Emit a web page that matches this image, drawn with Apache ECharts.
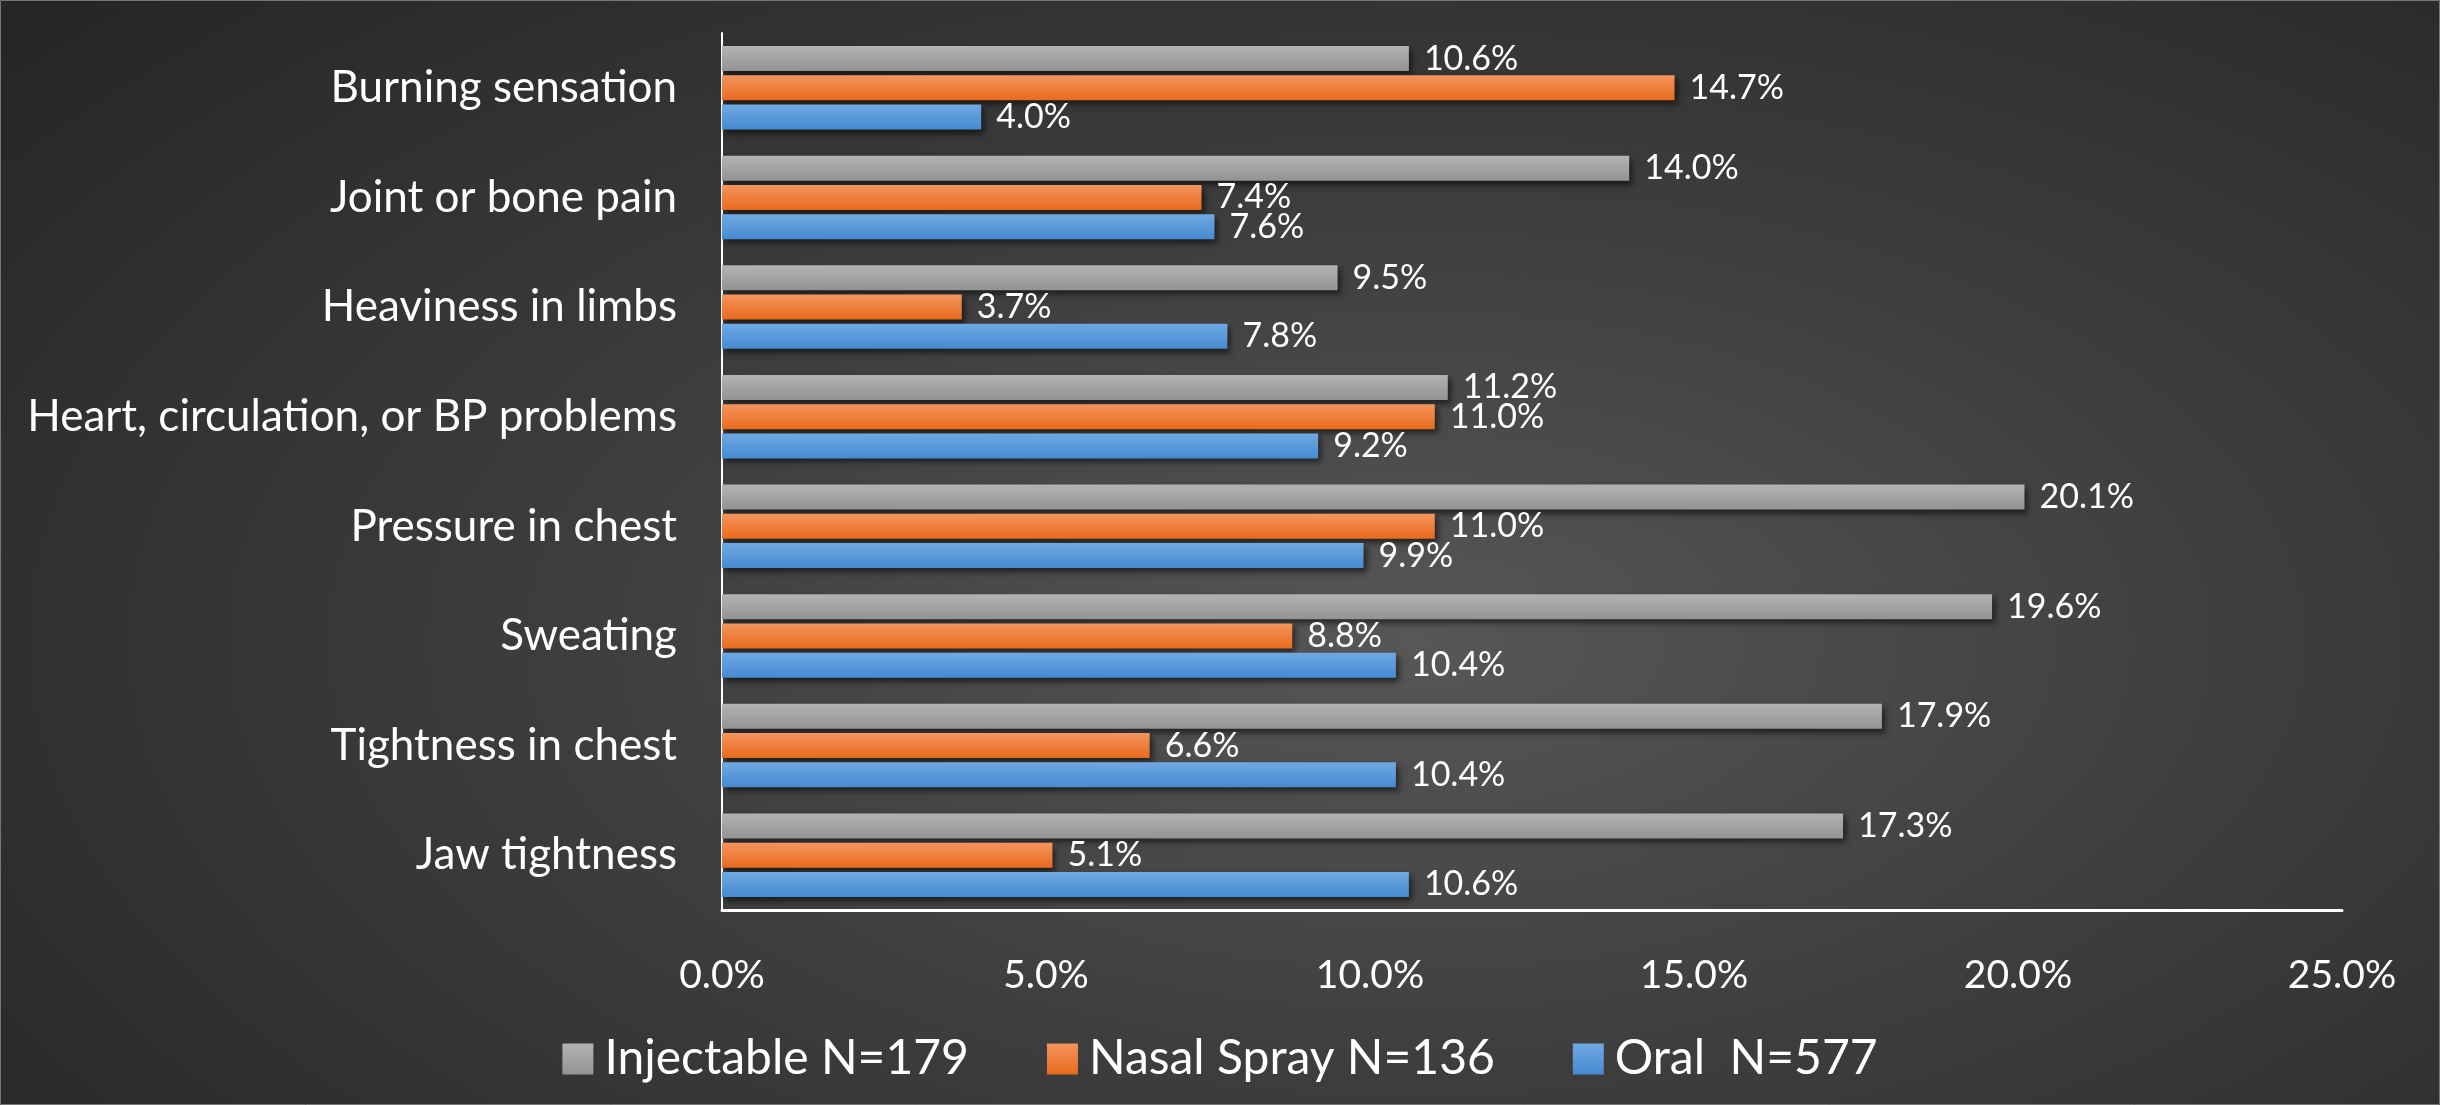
<!DOCTYPE html>
<html>
<head>
<meta charset="utf-8">
<script src="https://cdn.jsdelivr.net/npm/echarts@6/dist/echarts.min.js"></script>
<style>
  html, body { margin: 0; padding: 0; background: #262626; }
  #main {
    width: 2440px; height: 1105px;
    background: radial-gradient(ellipse 75% 85% at 58% 58%, #575757 0%, #3e3e3e 45%, #262626 100%);
  }
</style>
</head>
<body>
<div id="main"></div>
<script>
// categories, bottom to top as on the axis
var symptoms = ['Jaw tightness', 'Tightness in chest', 'Sweating', 'Pressure in chest',
  'Heart, circulation, or BP problems', 'Heaviness in limbs', 'Joint or bone pain', 'Burning sensation'];

var injectable = [17.3, 17.9, 19.6, 20.1, 11.2, 9.5, 14.0, 10.6];
var nasalSpray = [5.1, 6.6, 8.8, 11.0, 11.0, 3.7, 7.4, 14.7];
var oral = [10.6, 10.4, 10.4, 9.9, 9.2, 7.8, 7.6, 4.0];

var seriesNames = ['Injectable N=179', 'Nasal Spray N=136', 'Oral  N=577'];

var FONT = 'Lato, "Open Sans", sans-serif';

function grad(top, bottom) {
  return new echarts.graphic.LinearGradient(0, 0, 0, 1, [
    { offset: 0, color: top },
    { offset: 1, color: bottom }
  ]);
}

function makeSeries(name, data, c1, c2) {
  return {
    name: name,
    type: 'bar',
    data: data,
    barWidth: 25,
    barGap: '17%',
    itemStyle: {
      color: grad(c1, c2),
      shadowColor: 'rgba(0,0,0,0.55)',
      shadowBlur: 6,
      shadowOffsetX: 3,
      shadowOffsetY: 4
    },
    label: {
      show: true,
      position: 'right',
      distance: 15,
      color: '#ffffff',
      fontFamily: FONT,
      fontSize: 34,
      formatter: function (p) { return p.value.toFixed(1) + '%'; }
    }
  };
}

var chart = echarts.init(document.getElementById('main'), null, { renderer: 'canvas' });

var option = {
  animation: false,
  backgroundColor: 'transparent',
  textStyle: { fontFamily: FONT },
  graphic: [{
    type: 'rect',
    shape: { x: 0.5, y: 0.5, width: 2439, height: 1104 },
    style: { fill: 'none', stroke: '#777777', lineWidth: 1 },
    silent: true
  }],
  grid: { left: 722, right: 98, top: 33, bottom: 195, containLabel: false },
  legend: {
    data: seriesNames,
    left: 'center',
    top: 1030,
    itemWidth: 31,
    itemHeight: 31,
    itemGap: 78,
    icon: 'rect',
    textStyle: {
      color: '#ffffff',
      fontFamily: FONT,
      fontSize: 48,
      padding: [0, 0, 0, 6]
    }
  },
  xAxis: {
    type: 'value',
    min: 0,
    max: 25,
    interval: 5,
    splitLine: { show: false },
    axisLine: { show: true, lineStyle: { color: '#ffffff', width: 3 } },
    axisTick: { show: false },
    axisLabel: {
      color: '#ffffff',
      fontFamily: FONT,
      fontSize: 39,
      margin: 46,
      formatter: function (v) { return v.toFixed(1) + '%'; }
    }
  },
  yAxis: {
    type: 'category',
    data: symptoms,
    axisLine: { show: true, lineStyle: { color: '#ffffff', width: 2 } },
    axisTick: { show: false },
    axisLabel: {
      color: '#ffffff',
      fontFamily: FONT,
      fontSize: 44,
      margin: 45
    }
  },
  series: [
    makeSeries(seriesNames[0], injectable, '#b3b3b3', '#939393'),
    makeSeries(seriesNames[1], nasalSpray, '#f4955e', '#e96a1c'),
    makeSeries(seriesNames[2], oral, '#6fa9e2', '#468ad1')
  ]
};

chart.setOption(option);
</script>
</body>
</html>
